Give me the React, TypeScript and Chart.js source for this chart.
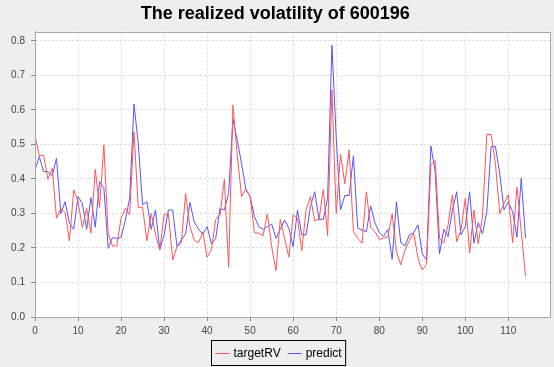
import React, { useEffect, useRef } from "react";
import { Chart, registerables } from "chart.js";

Chart.register(...registerables);

const TITLE = "The realized volatility of 600196";
const SERIES_NAMES = ["targetRV", "predict"];

const targetRV = [
  0.525, 0.467, 0.469, 0.399, 0.431, 0.286, 0.315, 0.302, 0.221, 0.368,
  0.335, 0.259, 0.315, 0.243, 0.428, 0.317, 0.499, 0.243, 0.206, 0.206,
  0.286, 0.315, 0.296, 0.537, 0.318, 0.318, 0.221, 0.300, 0.240, 0.195,
  0.296, 0.300, 0.165, 0.204, 0.214, 0.358, 0.262, 0.223, 0.215, 0.247,
  0.173, 0.195, 0.283, 0.296, 0.399, 0.144, 0.614, 0.470, 0.349, 0.370,
  0.349, 0.244, 0.243, 0.235, 0.299, 0.204, 0.134, 0.283, 0.228, 0.173,
  0.296, 0.286, 0.192, 0.310, 0.349, 0.279, 0.283, 0.370, 0.236, 0.658,
  0.300, 0.472, 0.386, 0.484, 0.247, 0.228, 0.214, 0.363, 0.260, 0.247,
  0.225, 0.228, 0.233, 0.299, 0.189, 0.151, 0.194, 0.221, 0.243, 0.170,
  0.136, 0.153, 0.441, 0.453, 0.228, 0.214, 0.267, 0.354, 0.218, 0.252,
  0.344, 0.186, 0.310, 0.212, 0.290, 0.529, 0.529, 0.445, 0.299, 0.329,
  0.354, 0.215, 0.376, 0.250, 0.117,
];

const predict = [
  0.426, 0.465, 0.421, 0.421, 0.409, 0.460, 0.300, 0.334, 0.272, 0.254,
  0.349, 0.329, 0.254, 0.346, 0.260, 0.392, 0.375, 0.199, 0.230, 0.228,
  0.231, 0.281, 0.344, 0.617, 0.503, 0.325, 0.334, 0.254, 0.310, 0.196,
  0.238, 0.310, 0.310, 0.204, 0.223, 0.241, 0.332, 0.276, 0.254, 0.240,
  0.262, 0.212, 0.228, 0.315, 0.310, 0.358, 0.573, 0.513, 0.445, 0.370,
  0.349, 0.291, 0.262, 0.254, 0.262, 0.269, 0.228, 0.254, 0.281, 0.257,
  0.204, 0.310, 0.238, 0.238, 0.320, 0.363, 0.283, 0.283, 0.344, 0.788,
  0.520, 0.310, 0.352, 0.352, 0.467, 0.257, 0.252, 0.247, 0.322, 0.273,
  0.245, 0.233, 0.254, 0.167, 0.334, 0.215, 0.206, 0.238, 0.244, 0.267,
  0.183, 0.165, 0.496, 0.421, 0.183, 0.254, 0.233, 0.310, 0.363, 0.238,
  0.262, 0.363, 0.214, 0.273, 0.241, 0.305, 0.494, 0.494, 0.416, 0.310,
  0.334, 0.305, 0.231, 0.402, 0.228,
];

const X_TICKS = [0, 10, 20, 30, 40, 50, 60, 70, 80, 90, 100, 110];
const Y_TICKS = [0, 0.1, 0.2, 0.3, 0.4, 0.5, 0.6, 0.7, 0.8];
const X_MAX = 119.8;
const Y_MAX = 0.827;

const COLORS = ["#ff5555", "#5555ff"];
const FONT = "'Liberation Sans', Arial, sans-serif";

const bgPlugin = {
  id: "bgPlugin",
  beforeDraw(chart: any) {
    const { ctx, chartArea: a } = chart;
    ctx.save();
    ctx.fillStyle = "#eeeeee";
    ctx.fillRect(0, 0, chart.width, chart.height);
    ctx.fillStyle = "#ffffff";
    ctx.fillRect(a.left, a.top, a.right - a.left, a.bottom - a.top);
    ctx.restore();
  },
  afterDatasetsDraw(chart: any) {
    const { ctx, chartArea: a } = chart;
    ctx.save();
    ctx.strokeStyle = "#a8a8a8";
    ctx.lineWidth = 1;
    ctx.strokeRect(Math.round(a.left) + 0.5, Math.round(a.top) + 0.5, Math.round(a.right - a.left) - 1, Math.round(a.bottom - a.top));
    ctx.restore();
  },
};

const legendPlugin = {
  id: "boxLegend",
  afterDraw(chart: any) {
    const { ctx } = chart;
    ctx.save();
    ctx.font = `12px ${FONT}`;
    const sw = 14;
    const gapSwText = 4;
    const gapItems = 7;
    const padL = 4;
    const padR = 4;
    const widths = SERIES_NAMES.map((n) => ctx.measureText(n).width);
    let total = padL + padR;
    widths.forEach((w, i) => {
      total += sw + gapSwText + w + (i < widths.length - 1 ? gapItems : 0);
    });
    const cx = chart.width / 2 + 1;
    const x0 = Math.round(cx - total / 2) + 0.5;
    const y0 = 340.5;
    const h = 25;
    ctx.strokeStyle = "#000000";
    ctx.lineWidth = 1;
    ctx.strokeRect(x0, y0, total, h);
    let x = x0 + padL;
    const cy = y0 + h / 2;
    SERIES_NAMES.forEach((n, i) => {
      ctx.strokeStyle = COLORS[i];
      ctx.beginPath();
      ctx.moveTo(x, Math.round(cy) + 0.5);
      ctx.lineTo(x + sw, Math.round(cy) + 0.5);
      ctx.stroke();
      x += sw + gapSwText;
      ctx.fillStyle = "#000000";
      ctx.textBaseline = "middle";
      ctx.textAlign = "left";
      ctx.fillText(n, x, cy + 0.5);
      x += widths[i] + gapItems;
    });
    ctx.restore();
  },
};

export default function App() {
  const ref = useRef<HTMLCanvasElement | null>(null);

  useEffect(() => {
    if (!ref.current) return;
    const chart = new Chart(ref.current, {
      type: "line",
      data: {
        datasets: [
          {
            label: SERIES_NAMES[0],
            data: targetRV.map((v, i) => ({ x: i, y: v })),
            borderColor: COLORS[0],
            backgroundColor: COLORS[0],
            borderWidth: 1,
            pointRadius: 0,
            tension: 0,
          },
          {
            label: SERIES_NAMES[1],
            data: predict.map((v, i) => ({ x: i, y: v })),
            borderColor: COLORS[1],
            backgroundColor: COLORS[1],
            borderWidth: 1,
            pointRadius: 0,
            tension: 0,
          },
        ],
      },
      options: {
        responsive: false,
        animation: false,
        devicePixelRatio: 1,
        layout: { padding: { left: 0, right: 3.5, top: 0, bottom: 0 } },
        plugins: {
          legend: { display: false },
          tooltip: { enabled: false },
          title: {
            display: true,
            text: TITLE,
            color: "#000000",
            font: { family: FONT, size: 18, weight: "bold" },
            padding: { top: 3, bottom: 7 },
          },
        },
        scales: {
          x: {
            type: "linear",
            min: 0,
            max: X_MAX,
            afterBuildTicks: (scale: any) => {
              scale.ticks = X_TICKS.map((v) => ({ value: v }));
            },
            afterFit: (scale: any) => {
              scale.height = 50;
            },
            ticks: {
              color: "#444444",
              font: { family: FONT, size: 10 },
              padding: 4,
              maxRotation: 0,
              autoSkip: false,
              callback: (v: any) => String(v),
            },
            grid: {
              color: "#d8d8d8",
              lineWidth: 1,
              drawTicks: true,
              tickLength: 4,
              tickColor: "#888888",
              tickBorderDash: [],
            },
            border: { display: true, color: "#888888", width: 1, dash: [2, 2] },
          },
          y: {
            type: "linear",
            min: 0,
            max: Y_MAX,
            afterBuildTicks: (scale: any) => {
              scale.ticks = Y_TICKS.map((v) => ({ value: v }));
            },
            afterFit: (scale: any) => {
              scale.width = 35;
            },
            ticks: {
              color: "#444444",
              font: { family: FONT, size: 10 },
              padding: 6,
              autoSkip: false,
              callback: (v: any) => Number(v).toFixed(1),
            },
            grid: {
              color: "#d8d8d8",
              lineWidth: 1,
              drawTicks: true,
              tickLength: 4,
              tickColor: "#888888",
              tickBorderDash: [],
            },
            border: { display: true, color: "#888888", width: 1, dash: [2, 2] },
          },
        },
      },
      plugins: [bgPlugin, legendPlugin],
    } as any);
    return () => chart.destroy();
  }, []);

  return (
    <div style={{ position: "fixed", left: 0, top: 0, width: 554, height: 367, background: "#eeeeee" }}>
      <canvas ref={ref} width={554} height={367} style={{ display: "block", width: 554, height: 367 }} />
    </div>
  );
}
